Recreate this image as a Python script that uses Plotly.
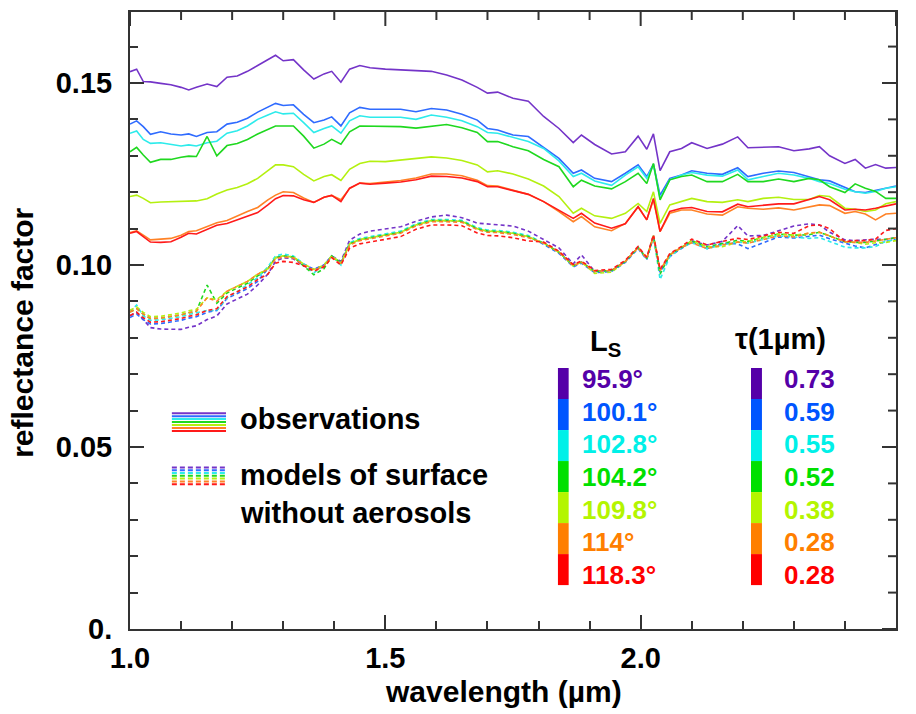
import plotly.graph_objects as go

# ---------------- data ----------------
WAVELENGTH = [1.00, 1.013, 1.026, 1.04, 1.06, 1.08, 1.10, 1.115, 1.13, 1.151,
              1.17, 1.19, 1.21, 1.23, 1.25, 1.27, 1.285, 1.30, 1.32, 1.34,
              1.36, 1.38, 1.395, 1.413, 1.43, 1.45, 1.47, 1.50, 1.53, 1.56,
              1.59, 1.62, 1.65, 1.68, 1.70, 1.72, 1.75, 1.78, 1.81, 1.84,
              1.868, 1.884, 1.91, 1.943, 1.97, 1.995, 2.012, 2.025, 2.038, 2.057,
              2.08, 2.10, 2.13, 2.16, 2.19, 2.21, 2.24, 2.27, 2.30, 2.33,
              2.35, 2.37, 2.40, 2.42, 2.44, 2.46, 2.48, 2.50]

LS_LABELS = ["95.9°", "100.1°", "102.8°", "104.2°", "109.8°", "114°", "118.3°"]
TAU_LABELS = ["0.73", "0.59", "0.55", "0.52", "0.38", "0.28", "0.28"]

obs_959 = [0.1531, 0.1538, 0.1504, 0.1503, 0.1499, 0.1495, 0.1488, 0.1481, 0.1488, 0.1497,
           0.1490, 0.1516, 0.1519, 0.1532, 0.1548, 0.1565, 0.1576, 0.1561, 0.1564, 0.1536,
           0.1511, 0.1525, 0.1532, 0.1502, 0.1538, 0.1548, 0.1542, 0.1538, 0.1536, 0.1533,
           0.1532, 0.1522, 0.1508, 0.1488, 0.1472, 0.1475, 0.1458, 0.1450, 0.1408, 0.1375,
           0.1336, 0.1357, 0.1331, 0.1305, 0.1311, 0.1354, 0.1318, 0.1360, 0.1259, 0.1311,
           0.1320, 0.1336, 0.1320, 0.1332, 0.1352, 0.1322, 0.1323, 0.1325, 0.1314, 0.1319,
           0.1325, 0.1300, 0.1279, 0.1290, 0.1266, 0.1276, 0.1266, 0.1268]
obs_1001 = [0.1387, 0.1396, 0.1380, 0.1359, 0.1366, 0.1360, 0.1357, 0.1360, 0.1353, 0.1364,
            0.1366, 0.1387, 0.1392, 0.1403, 0.1420, 0.1433, 0.1444, 0.1438, 0.1440, 0.1414,
            0.1391, 0.1398, 0.1407, 0.1382, 0.1418, 0.1433, 0.1428, 0.1428, 0.1428, 0.1421,
            0.1430, 0.1426, 0.1414, 0.1398, 0.1375, 0.1371, 0.1357, 0.1353, 0.1322, 0.1293,
            0.1252, 0.1261, 0.1238, 0.1229, 0.1252, 0.1275, 0.1243, 0.1277, 0.1192, 0.1238,
            0.1247, 0.1259, 0.1252, 0.1249, 0.1267, 0.1243, 0.1252, 0.1258, 0.1254, 0.1243,
            0.1234, 0.1231, 0.1212, 0.1201, 0.1199, 0.1206, 0.1211, 0.1217]
obs_1028 = [0.1362, 0.1368, 0.1345, 0.1334, 0.1336, 0.1332, 0.1327, 0.1330, 0.1327, 0.1336,
            0.1340, 0.1362, 0.1369, 0.1382, 0.1400, 0.1412, 0.1421, 0.1415, 0.1417, 0.1391,
            0.1364, 0.1375, 0.1382, 0.1362, 0.1396, 0.1410, 0.1406, 0.1406, 0.1406, 0.1400,
            0.1412, 0.1406, 0.1396, 0.1380, 0.1364, 0.1362, 0.1350, 0.1339, 0.1320, 0.1286,
            0.1243, 0.1252, 0.1231, 0.1219, 0.1247, 0.1270, 0.1238, 0.1275, 0.1183, 0.1234,
            0.1247, 0.1254, 0.1247, 0.1244, 0.1261, 0.1234, 0.1243, 0.1252, 0.1247, 0.1238,
            0.1229, 0.1224, 0.1208, 0.1201, 0.1197, 0.1202, 0.1211, 0.1215]
obs_1042 = [0.1311, 0.1323, 0.1302, 0.1282, 0.1290, 0.1290, 0.1296, 0.1299, 0.1298, 0.1353,
            0.1300, 0.1328, 0.1334, 0.1345, 0.1360, 0.1373, 0.1382, 0.1382, 0.1382, 0.1354,
            0.1321, 0.1332, 0.1345, 0.1332, 0.1366, 0.1382, 0.1382, 0.1382, 0.1380, 0.1376,
            0.1382, 0.1386, 0.1377, 0.1364, 0.1339, 0.1339, 0.1325, 0.1314, 0.1290, 0.1270,
            0.1215, 0.1233, 0.1217, 0.1209, 0.1229, 0.1252, 0.1224, 0.1279, 0.1179, 0.1234,
            0.1243, 0.1247, 0.1229, 0.1229, 0.1249, 0.1229, 0.1229, 0.1236, 0.1229, 0.1238,
            0.1234, 0.1215, 0.1199, 0.1223, 0.1211, 0.1202, 0.1183, 0.1183]
obs_1098 = [0.1188, 0.1192, 0.1183, 0.1171, 0.1173, 0.1174, 0.1176, 0.1176, 0.1176, 0.1182,
            0.1195, 0.1206, 0.1213, 0.1223, 0.1238, 0.1259, 0.1275, 0.1275, 0.1270, 0.1249,
            0.1231, 0.1243, 0.1248, 0.1232, 0.1263, 0.1279, 0.1285, 0.1284, 0.1288, 0.1292,
            0.1297, 0.1294, 0.1287, 0.1275, 0.1256, 0.1259, 0.1250, 0.1236, 0.1217, 0.1188,
            0.1142, 0.1156, 0.1135, 0.1128, 0.1142, 0.1169, 0.1147, 0.1201, 0.1114, 0.1165,
            0.1174, 0.1183, 0.1174, 0.1172, 0.1179, 0.1174, 0.1183, 0.1186, 0.1180, 0.1180,
            0.1191, 0.1188, 0.1156, 0.1153, 0.1147, 0.1151, 0.1168, 0.1174]
obs_1140 = [0.1089, 0.1094, 0.1082, 0.1069, 0.1071, 0.1073, 0.1082, 0.1092, 0.1094, 0.1105,
            0.1116, 0.1122, 0.1135, 0.1147, 0.1158, 0.1179, 0.1192, 0.1201, 0.1199, 0.1184,
            0.1172, 0.1186, 0.1191, 0.1179, 0.1210, 0.1225, 0.1224, 0.1228, 0.1232, 0.1239,
            0.1250, 0.1250, 0.1245, 0.1233, 0.1218, 0.1217, 0.1206, 0.1194, 0.1174, 0.1147,
            0.1119, 0.1133, 0.1105, 0.1094, 0.1114, 0.1160, 0.1124, 0.1179, 0.1092, 0.1142,
            0.1151, 0.1151, 0.1140, 0.1137, 0.1160, 0.1156, 0.1153, 0.1157, 0.1151, 0.1160,
            0.1165, 0.1163, 0.1142, 0.1147, 0.1140, 0.1124, 0.1140, 0.1142]
obs_1183 = [0.1087, 0.1092, 0.1078, 0.1063, 0.1062, 0.1064, 0.1076, 0.1087, 0.1085, 0.1098,
            0.1109, 0.1114, 0.1124, 0.1133, 0.1144, 0.1165, 0.1182, 0.1191, 0.1190, 0.1179,
            0.1172, 0.1186, 0.1191, 0.1174, 0.1211, 0.1225, 0.1222, 0.1225, 0.1228, 0.1234,
            0.1244, 0.1243, 0.1239, 0.1229, 0.1215, 0.1215, 0.1204, 0.1194, 0.1174, 0.1151,
            0.1128, 0.1142, 0.1115, 0.1101, 0.1113, 0.1160, 0.1124, 0.1183, 0.1092, 0.1147,
            0.1156, 0.1158, 0.1147, 0.1146, 0.1167, 0.1160, 0.1165, 0.1168, 0.1168, 0.1180,
            0.1188, 0.1179, 0.1151, 0.1153, 0.1151, 0.1156, 0.1163, 0.1168]

mod_959 = [0.0861, 0.0870, 0.0850, 0.0828, 0.0824, 0.0823, 0.0823, 0.0829, 0.0833, 0.0850,
           0.0860, 0.0893, 0.0907, 0.0920, 0.0945, 0.0975, 0.1010, 0.1020, 0.1017, 0.0998,
           0.0988, 0.1000, 0.1025, 0.1010, 0.1068, 0.1085, 0.1093, 0.1100, 0.1105, 0.1120,
           0.1132, 0.1137, 0.1130, 0.1115, 0.1113, 0.1112, 0.1107, 0.1093, 0.1070, 0.1047,
           0.1003, 0.1028, 0.0982, 0.0985, 0.1010, 0.1048, 0.1018, 0.1080, 0.0985, 0.1023,
           0.1048, 0.1066, 0.1055, 0.1065, 0.1108, 0.1080, 0.1081, 0.1095, 0.1107, 0.1113,
           0.1110, 0.1090, 0.1069, 0.1067, 0.1070, 0.1071, 0.1070, 0.1075]
mod_1001 = [0.0856, 0.0865, 0.0850, 0.0838, 0.0839, 0.0843, 0.0848, 0.0854, 0.0858, 0.0870,
            0.0875, 0.0908, 0.0922, 0.0935, 0.0955, 0.0990, 0.1020, 0.1025, 0.1022, 0.1003,
            0.0988, 0.1000, 0.1025, 0.1005, 0.1058, 0.1070, 0.1075, 0.1082, 0.1090, 0.1110,
            0.1122, 0.1122, 0.1120, 0.1100, 0.1093, 0.1092, 0.1087, 0.1078, 0.1057, 0.1032,
            0.0995, 0.1005, 0.0979, 0.0982, 0.1007, 0.1045, 0.1015, 0.1077, 0.0980, 0.1025,
            0.1045, 0.1063, 0.1045, 0.1060, 0.1058, 0.1045, 0.1061, 0.1077, 0.1074, 0.1080,
            0.1082, 0.1072, 0.1059, 0.1052, 0.1047, 0.1056, 0.1065, 0.1070]
mod_1028 = [0.0871, 0.0890, 0.0860, 0.0848, 0.0849, 0.0853, 0.0858, 0.0864, 0.0868, 0.0875,
            0.0875, 0.0910, 0.0927, 0.0945, 0.0965, 0.0995, 0.1025, 0.1030, 0.1025, 0.1003,
            0.0978, 0.1000, 0.1025, 0.1000, 0.1061, 0.1073, 0.1078, 0.1085, 0.1093, 0.1113,
            0.1125, 0.1125, 0.1123, 0.1103, 0.1096, 0.1095, 0.1090, 0.1081, 0.1060, 0.1035,
            0.0998, 0.1008, 0.0982, 0.0985, 0.1010, 0.1048, 0.1018, 0.1080, 0.0960, 0.1023,
            0.1048, 0.1061, 0.1045, 0.1055, 0.1063, 0.1060, 0.1071, 0.1080, 0.1077, 0.1073,
            0.1075, 0.1065, 0.1049, 0.1047, 0.1047, 0.1051, 0.1065, 0.1070]
mod_1042 = [0.0871, 0.0880, 0.0865, 0.0853, 0.0854, 0.0858, 0.0863, 0.0869, 0.0873, 0.0945,
            0.0895, 0.0923, 0.0937, 0.0950, 0.0970, 0.0990, 0.1020, 0.1025, 0.1022, 0.0998,
            0.0973, 0.0990, 0.1025, 0.1005, 0.1058, 0.1070, 0.1075, 0.1082, 0.1090, 0.1110,
            0.1122, 0.1122, 0.1120, 0.1100, 0.1093, 0.1092, 0.1087, 0.1078, 0.1060, 0.1035,
            0.0998, 0.1008, 0.0982, 0.0985, 0.1010, 0.1048, 0.1018, 0.1080, 0.0975, 0.1028,
            0.1048, 0.1066, 0.1050, 0.1060, 0.1068, 0.1065, 0.1076, 0.1085, 0.1082, 0.1083,
            0.1090, 0.1080, 0.1064, 0.1062, 0.1062, 0.1066, 0.1070, 0.1075]
mod_1098 = [0.0876, 0.0885, 0.0870, 0.0858, 0.0859, 0.0863, 0.0868, 0.0874, 0.0878, 0.0910,
            0.0905, 0.0928, 0.0942, 0.0955, 0.0975, 0.0990, 0.1020, 0.1025, 0.1022, 0.1003,
            0.0988, 0.1000, 0.1025, 0.1005, 0.1058, 0.1070, 0.1075, 0.1082, 0.1090, 0.1110,
            0.1122, 0.1122, 0.1120, 0.1100, 0.1093, 0.1092, 0.1087, 0.1078, 0.1060, 0.1035,
            0.0998, 0.1008, 0.0977, 0.0980, 0.1010, 0.1048, 0.1018, 0.1080, 0.0985, 0.1028,
            0.1048, 0.1066, 0.1050, 0.1050, 0.1063, 0.1065, 0.1076, 0.1085, 0.1082, 0.1088,
            0.1090, 0.1080, 0.1064, 0.1062, 0.1057, 0.1061, 0.1062, 0.1067]
mod_1140 = [0.0871, 0.0880, 0.0865, 0.0853, 0.0854, 0.0858, 0.0863, 0.0869, 0.0873, 0.0910,
            0.0900, 0.0928, 0.0942, 0.0955, 0.0975, 0.0987, 0.1017, 0.1022, 0.1019, 0.1000,
            0.0985, 0.0997, 0.1022, 0.1002, 0.1055, 0.1067, 0.1072, 0.1079, 0.1087, 0.1107,
            0.1119, 0.1119, 0.1117, 0.1097, 0.1090, 0.1089, 0.1084, 0.1075, 0.1060, 0.1035,
            0.0998, 0.1008, 0.0982, 0.0985, 0.1010, 0.1048, 0.1018, 0.1080, 0.0985, 0.1028,
            0.1048, 0.1061, 0.1045, 0.1055, 0.1063, 0.1060, 0.1071, 0.1080, 0.1077, 0.1088,
            0.1090, 0.1080, 0.1064, 0.1062, 0.1062, 0.1066, 0.1070, 0.1075]
mod_1183 = [0.0861, 0.0870, 0.0855, 0.0843, 0.0844, 0.0848, 0.0853, 0.0859, 0.0863, 0.0875,
            0.0880, 0.0913, 0.0927, 0.0940, 0.0960, 0.0975, 0.1005, 0.1010, 0.1007, 0.0998,
            0.0983, 0.0995, 0.1020, 0.1000, 0.1046, 0.1058, 0.1063, 0.1070, 0.1078, 0.1098,
            0.1110, 0.1110, 0.1108, 0.1088, 0.1081, 0.1080, 0.1075, 0.1066, 0.1063, 0.1038,
            0.1001, 0.1011, 0.0985, 0.0988, 0.1013, 0.1051, 0.1021, 0.1083, 0.0988, 0.1031,
            0.1051, 0.1071, 0.1055, 0.1065, 0.1073, 0.1070, 0.1081, 0.1090, 0.1087, 0.1108,
            0.1110, 0.1100, 0.1064, 0.1067, 0.1067, 0.1071, 0.1095, 0.1100]

OBSERVATIONS = [obs_959, obs_1001, obs_1028, obs_1042, obs_1098, obs_1140, obs_1183]
MODELS = [mod_959, mod_1001, mod_1028, mod_1042, mod_1098, mod_1140, mod_1183]

X_MAJOR = [1.0, 1.5, 2.0, 2.5]
X_MAJOR_TEXT = ["1.0", "1.5", "2.0", "2.5"]
X_MINOR = [1.1, 1.2, 1.3, 1.4, 1.6, 1.7, 1.8, 1.9, 2.1, 2.2, 2.3, 2.4]
Y_MAJOR = [0, 0.05, 0.10, 0.15]
Y_MAJOR_TEXT = ["0.", "0.05", "0.10", "0.15"]
Y_MINOR = [0.01, 0.02, 0.03, 0.04, 0.06, 0.07, 0.08, 0.09,
           0.11, 0.12, 0.13, 0.14, 0.16]

# ---------------- styles ----------------
LINE_COLORS = ["#7434C8", "#2F6BFF", "#2DEBEB", "#1FD81F", "#B4F010", "#FF8226", "#FF1A1A"]
SWATCH_COLORS = ["#5500A8", "#0055FF", "#00F0E8", "#00E000", "#B4F500", "#FF7F00", "#FF0000"]
FONT = "Liberation Sans, Arial, Helvetica, sans-serif"
AX = "#333333"
X_RANGE = [1.0, 2.5]
Y_RANGE = [0, 0.1695]
MAJOR_LEN = 14
MINOR_LEN = 8
W, H = 916, 714
M = dict(l=130, r=20, t=12, b=85)
PLOT_W = W - M["l"] - M["r"]
PLOT_H = H - M["t"] - M["b"]
X_PER_PX = (X_RANGE[1] - X_RANGE[0]) / PLOT_W
Y_PER_PX = (Y_RANGE[1] - Y_RANGE[0]) / PLOT_H

fig = go.Figure()

for vals, col in zip(MODELS, LINE_COLORS):
    fig.add_trace(go.Scatter(x=WAVELENGTH, y=vals, mode="lines",
                             line=dict(color=col, width=1.6, dash="4px,3px"),
                             hoverinfo="skip"))
for vals, col in zip(OBSERVATIONS, LINE_COLORS):
    fig.add_trace(go.Scatter(x=WAVELENGTH, y=vals, mode="lines",
                             line=dict(color=col, width=1.6),
                             hoverinfo="skip"))

# mirrored ticks on the top and right edges of the frame (axis decoration)
tx, ty = [], []
for v, ln in [(t, MAJOR_LEN) for t in X_MAJOR] + [(t, MINOR_LEN) for t in X_MINOR]:
    tx += [v, v, None]
    ty += [Y_RANGE[1], Y_RANGE[1] - ln * Y_PER_PX, None]
for v, ln in [(t, MAJOR_LEN) for t in Y_MAJOR] + [(t, MINOR_LEN) for t in Y_MINOR]:
    tx += [X_RANGE[1], X_RANGE[1] - ln * X_PER_PX, None]
    ty += [v, v, None]
fig.add_trace(go.Scatter(x=tx, y=ty, mode="lines", line=dict(color=AX, width=2),
                         hoverinfo="skip", connectgaps=False))

shapes = []
annotations = []

# legend: line samples (positions in data units)
for i, col in enumerate(LINE_COLORS):
    yo = 0.0593 - i * 0.00082
    shapes.append(dict(type="line", xref="x", yref="y", x0=1.082, x1=1.188, y0=yo, y1=yo,
                       line=dict(color=col, width=2)))
    ym = 0.0444 - i * 0.00077
    shapes.append(dict(type="line", xref="x", yref="y", x0=1.082, x1=1.188, y0=ym, y1=ym,
                       line=dict(color=col, width=2, dash="5px,3px")))

legend_font = dict(family=FONT, size=29, color="black", weight="bold")
annotations.append(dict(x=1.2115, y=0.0577, xref="x", yref="y", text="observations",
                        showarrow=False, xanchor="left", yanchor="middle", font=legend_font))
annotations.append(dict(x=1.2115, y=0.0423, xref="x", yref="y", text="models of surface",
                        showarrow=False, xanchor="left", yanchor="middle", font=legend_font))
annotations.append(dict(x=1.2115, y=0.0319, xref="x", yref="y", text="without aerosols",
                        showarrow=False, xanchor="left", yanchor="middle", font=legend_font))

# Ls / tau colour keys
for i, col in enumerate(SWATCH_COLORS):
    ytop = 0.0717 - i * 0.00852
    ybot = ytop - 0.00852
    shapes.append(dict(type="rect", xref="x", yref="y", x0=1.838, x1=1.859, y0=ybot, y1=ytop,
                       fillcolor=col, line=dict(width=0)))
    shapes.append(dict(type="rect", xref="x", yref="y", x0=2.216, x1=2.2375, y0=ybot, y1=ytop,
                       fillcolor=col, line=dict(width=0)))
    yt = 0.0687 - i * 0.00898
    kfont = dict(family=FONT, size=26, color=col, weight="bold")
    annotations.append(dict(x=1.881, y=yt, xref="x", yref="y", text=LS_LABELS[i],
                            showarrow=False, xanchor="left", yanchor="middle", font=kfont))
    annotations.append(dict(x=2.2767, y=yt, xref="x", yref="y", text=TAU_LABELS[i],
                            showarrow=False, xanchor="left", yanchor="middle", font=kfont))

hfont = dict(family=FONT, size=29, color="black", weight="bold")
annotations.append(dict(x=1.8968, y=0.0785, xref="x", yref="y", text="L<sub>S</sub>",
                        showarrow=False, xanchor="left", yanchor="middle", font=hfont))
annotations.append(dict(x=2.1807, y=0.0797, xref="x", yref="y", text="τ(1µm)",
                        showarrow=False, xanchor="left", yanchor="middle", font=hfont))

# axis titles
tfont = dict(family=FONT, size=30, color="black", weight="bold")
annotations.append(dict(x=0.487, y=0, xref="paper", yref="paper", text="wavelength (µm)",
                        showarrow=False, xanchor="center", yanchor="middle", yshift=-62,
                        font=tfont))
annotations.append(dict(x=0, y=0.48, xref="paper", yref="paper", text="reflectance factor",
                        showarrow=False, xanchor="center", yanchor="middle", xshift=-107,
                        textangle=-90, font=tfont))

tickfont = dict(family=FONT, size=29, color="black", weight="bold")
tick_common = dict(ticks="inside", tickwidth=2, tickcolor=AX, ticklen=MAJOR_LEN,
                   showgrid=False, zeroline=False, automargin=False,
                   showline=True, linewidth=2, linecolor=AX, mirror=True)

fig.update_layout(
    width=W, height=H,
    margin=M,
    plot_bgcolor="white", paper_bgcolor="white",
    showlegend=False,
    shapes=shapes, annotations=annotations,
    xaxis=dict(range=X_RANGE, tickmode="array", tickvals=X_MAJOR, ticktext=X_MAJOR_TEXT,
               tickfont=tickfont, ticklabelstandoff=2,
               minor=dict(ticks="inside", ticklen=MINOR_LEN, tickwidth=2, tickcolor=AX,
                          tickvals=X_MINOR, showgrid=False),
               **tick_common),
    yaxis=dict(range=Y_RANGE, tickmode="array", tickvals=Y_MAJOR, ticktext=Y_MAJOR_TEXT,
               tickfont=tickfont, ticklabelstandoff=10,
               minor=dict(ticks="inside", ticklen=MINOR_LEN, tickwidth=2, tickcolor=AX,
                          tickvals=Y_MINOR, showgrid=False),
               **tick_common),
)

fig.write_html("out.html")
